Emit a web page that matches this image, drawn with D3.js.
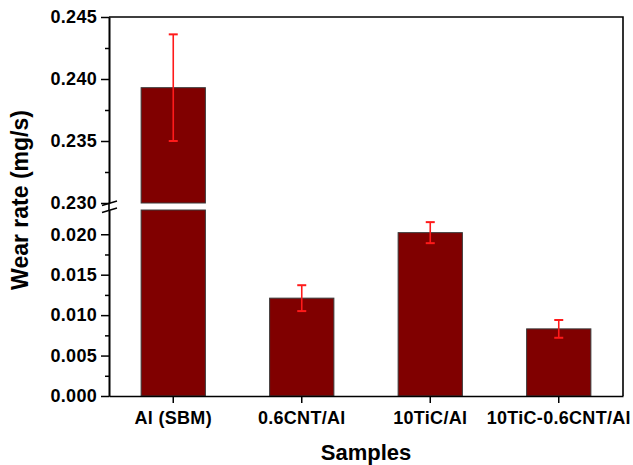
<!DOCTYPE html>
<html>
<head>
<meta charset="utf-8">
<script src="https://cdn.jsdelivr.net/npm/d3@7"></script>
<style>
  html, body { margin: 0; padding: 0; background: #fff; }
  svg { display: block; }
  text { font-family: "Liberation Sans", Arial, sans-serif; font-weight: bold; fill: #000; }
</style>
</head>
<body>
<svg id="chart" width="633" height="465"></svg>
<script>
// Wear rate per sample, with standard deviation
const categories = ["Al (SBM)", "0.6CNT/Al", "10TiC/Al", "10TiC-0.6CNT/Al"];
const wearRate = [0.2393, 0.0121, 0.0202, 0.0083];
const wearErr = [0.0043, 0.0016, 0.0013, 0.0011];

// Broken y axis: a low segment and a high segment
const lowDomain = [0, 0.023];
const highDomain = [0.230, 0.245];
const lowTicks = [0, 0.005, 0.010, 0.015, 0.020];
const lowMinorTicks = [0.0025, 0.0075, 0.0125, 0.0175];
const highTicks = [0.230, 0.235, 0.240, 0.245];
const highMinorTicks = [0.2325, 0.2375, 0.2425];

const svg = d3.select("#chart");
const plotLeft = 109, plotRight = 623, plotTop = 17, plotBottom = 396;
const lowTop = 210, highBottom = 203;

const x = d3.scaleBand().domain(categories).range([plotLeft, plotRight])
  .paddingInner(0.5).paddingOuter(0.25);
const yLow = d3.scaleLinear().domain(lowDomain).range([plotBottom, lowTop]);
const yHigh = d3.scaleLinear().domain(highDomain).range([highBottom, plotTop]);
const yPos = v => v >= highDomain[0] ? yHigh(v) : yLow(v);

const data = categories.map((c, i) => ({ c, v: wearRate[i], e: wearErr[i] }));

// Bars: lower segment piece
const lowY = d => d.v >= lowDomain[1] ? yLow(lowDomain[1]) : yLow(d.v);
svg.append("g").selectAll("rect").data(data).join("rect")
  .attr("x", d => x(d.c))
  .attr("width", x.bandwidth())
  .attr("y", lowY)
  .attr("height", d => yLow(0) - lowY(d))
  .attr("fill", "#800000").attr("stroke", "#3a3a3a").attr("stroke-width", 1);

// Bars: upper segment piece for values beyond the break
svg.append("g").selectAll("rect").data(data.filter(d => d.v >= highDomain[0])).join("rect")
  .attr("x", d => x(d.c))
  .attr("width", x.bandwidth())
  .attr("y", d => yHigh(d.v))
  .attr("height", d => yHigh(highDomain[0]) - yHigh(d.v))
  .attr("fill", "#800000").attr("stroke", "#3a3a3a").attr("stroke-width", 1);

// Error bars
const eb = svg.append("g").attr("stroke", "#ff1a1a");
data.forEach(d => {
  const cx = x(d.c) + x.bandwidth() / 2;
  const yt = yPos(d.v + d.e), yb = yPos(d.v - d.e);
  eb.append("line").attr("x1", cx).attr("x2", cx).attr("y1", yt).attr("y2", yb).attr("stroke-width", 1.6);
  [yt, yb].forEach(yy => eb.append("line")
    .attr("x1", cx - 4.5).attr("x2", cx + 4.5).attr("y1", yy).attr("y2", yy).attr("stroke-width", 2));
});

// Frame (top and right)
svg.append("path")
  .attr("d", `M${plotLeft},${plotTop}H${plotRight}V${plotBottom}`)
  .attr("fill", "none").attr("stroke", "#000").attr("stroke-width", 1.6);

function styleAxis(g) {
  g.selectAll("path.domain").attr("stroke", "#000").attr("stroke-width", 1.6);
  g.selectAll(".tick line").attr("stroke", "#000").attr("stroke-width", 1.5);
  g.selectAll("text").attr("font-size", 18).attr("letter-spacing", 0.3)
    .attr("font-family", null).attr("fill", "#000");
}

// Left axis, lower segment
const gLow = svg.append("g").attr("transform", `translate(${plotLeft},0)`)
  .call(d3.axisLeft(yLow).tickValues(lowTicks).tickFormat(d3.format(".3f"))
    .tickSize(8).tickSizeOuter(0).tickPadding(4));
styleAxis(gLow);
const gLowMinor = svg.append("g").attr("transform", `translate(${plotLeft},0)`)
  .call(d3.axisLeft(yLow).tickValues(lowMinorTicks).tickFormat("").tickSize(4).tickSizeOuter(0));
styleAxis(gLowMinor);

// Left axis, upper segment
const gHigh = svg.append("g").attr("transform", `translate(${plotLeft},0)`)
  .call(d3.axisLeft(yHigh).tickValues(highTicks).tickFormat(d3.format(".3f"))
    .tickSize(8).tickSizeOuter(0).tickPadding(4));
styleAxis(gHigh);
const gHighMinor = svg.append("g").attr("transform", `translate(${plotLeft},0)`)
  .call(d3.axisLeft(yHigh).tickValues(highMinorTicks).tickFormat("").tickSize(4).tickSizeOuter(0));
styleAxis(gHighMinor);

// Axis line across the break, plus break marks
svg.append("line").attr("x1", plotLeft).attr("x2", plotLeft).attr("y1", highBottom).attr("y2", lowTop)
  .attr("stroke", "#000").attr("stroke-width", 1.6);
const brk = svg.append("g").attr("stroke", "#000").attr("stroke-width", 1.5);
brk.append("line").attr("x1", plotLeft - 7).attr("y1", highBottom + 2.5).attr("x2", plotLeft + 8).attr("y2", highBottom - 2);
brk.append("line").attr("x1", plotLeft - 7).attr("y1", lowTop + 2.5).attr("x2", plotLeft + 8).attr("y2", lowTop - 2);

// Bottom axis
const gx = svg.append("g").attr("transform", `translate(0,${plotBottom})`)
  .call(d3.axisBottom(x).tickSize(7).tickSizeOuter(0).tickPadding(8));
styleAxis(gx);

// Axis titles
svg.append("text")
  .attr("transform", `translate(28,200) rotate(-90)`)
  .attr("text-anchor", "middle").attr("font-size", 23)
  .text("Wear rate (mg/s)");
svg.append("text")
  .attr("x", (plotLeft + plotRight) / 2).attr("y", 460)
  .attr("text-anchor", "middle").attr("font-size", 22)
  .text("Samples");
</script>
</body>
</html>
